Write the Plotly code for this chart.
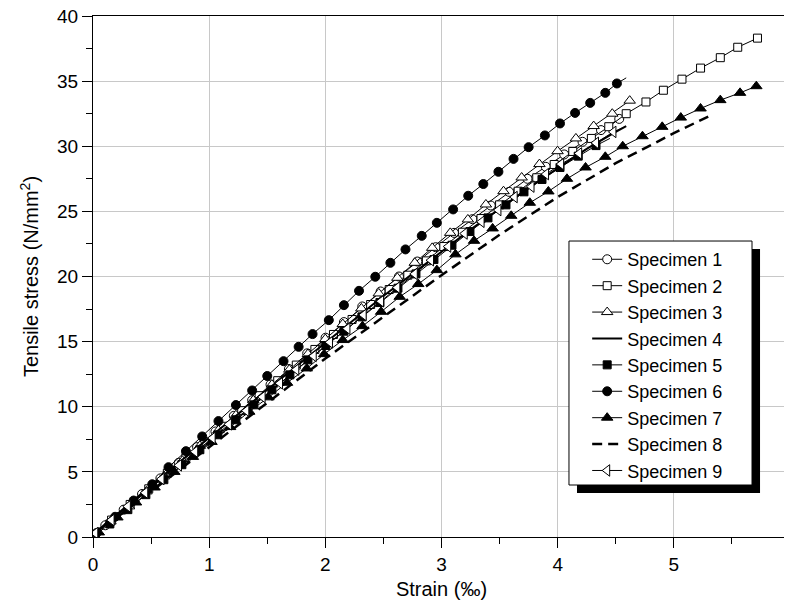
import plotly.graph_objects as go

# ---------------- data ----------------
names = ["Specimen 1", "Specimen 2", "Specimen 3", "Specimen 4", "Specimen 5",
         "Specimen 6", "Specimen 7", "Specimen 8", "Specimen 9"]

e1 = [0.106, 0.264, 0.422, 0.58, 0.738, 0.896, 1.054, 1.212, 1.37, 1.528, 1.686, 1.844,
      2.002, 2.16, 2.318, 2.476, 2.634, 2.792, 2.95, 3.108, 3.266, 3.424, 3.582, 3.74,
      3.898, 4.056, 4.214, 4.373, 4.53]
s1 = [0.9, 2.1, 3.3, 4.5, 5.7, 6.9, 8.1, 9.3, 10.5, 11.7, 12.9, 14.1,
      15.3, 16.5, 17.7, 18.85, 20.0, 21.15, 22.25, 23.35, 24.4, 25.45, 26.5, 27.5,
      28.42, 29.37, 30.34, 31.24, 32.1]

e2 = [0.02, 0.16, 0.32, 0.48, 0.64, 0.80, 0.96, 1.12, 1.28, 1.43, 1.59, 1.75, 1.91,
      2.07, 2.23, 2.39, 2.55, 2.71, 2.87, 3.02, 3.18, 3.34, 3.50, 3.66, 3.82, 3.97,
      4.13, 4.29, 4.44, 4.59, 4.76, 4.91, 5.07, 5.23, 5.40, 5.55, 5.72]
s2 = [0.2, 1.3, 2.5, 3.7, 4.9, 6.1, 7.3, 8.5, 9.7, 10.85, 12.0, 13.2, 14.4,
      15.55, 16.7, 17.85, 19.0, 20.1, 21.2, 22.3, 23.4, 24.45, 25.5, 26.55, 27.58, 28.6,
      29.6, 30.6, 31.5, 32.5, 33.4, 34.3, 35.15, 36.0, 36.8, 37.6, 38.3]

e3 = [0.0, 0.15, 0.31, 0.46, 0.61, 0.77, 0.92, 1.08, 1.23, 1.38, 1.54, 1.69, 1.85, 2.0,
      2.15, 2.31, 2.46, 2.62, 2.77, 2.92, 3.075, 3.227, 3.382, 3.534, 3.69, 3.843,
      3.999, 4.157, 4.31, 4.47, 4.62]
s3 = [0.1, 1.2, 2.35, 3.5, 4.65, 5.85, 7.0, 8.2, 9.35, 10.5, 11.7, 12.85, 14.05, 15.2,
      16.35, 17.55, 18.7, 19.9, 21.05, 22.2, 23.35, 24.38, 25.53, 26.55, 27.6, 28.63,
      29.62, 30.6, 31.55, 32.5, 33.5]

e4 = [0.0, 0.25, 0.5, 0.75, 1.0, 1.25, 1.5, 1.75, 2.0, 2.25, 2.5, 2.75, 3.0, 3.25,
      3.5, 3.75, 4.0, 4.25, 4.5, 4.59]
s4 = [0.2, 2.1, 3.95, 5.8, 7.6, 9.45, 11.3, 13.1, 14.9, 16.7, 18.5, 20.2, 21.9, 23.6,
      25.2, 26.8, 28.3, 29.8, 31.1, 31.55]

e5 = [0.145, 0.30, 0.455, 0.61, 0.765, 0.92, 1.075, 1.23, 1.385, 1.54, 1.695, 1.85,
      2.005, 2.16, 2.315, 2.47, 2.625, 2.78, 2.935, 3.09, 3.245, 3.40, 3.555, 3.71,
      3.865, 4.02, 4.177, 4.33]
s5 = [1.0, 2.1, 3.25, 4.4, 5.55, 6.7, 7.85, 9.0, 10.15, 11.3, 12.45, 13.6,
      14.7, 15.8, 16.9, 18.0, 19.1, 20.2, 21.3, 22.4, 23.45, 24.5, 25.5, 26.5,
      27.45, 28.37, 29.24, 30.05]
tail5 = ([4.33, 4.45], [30.05, 30.6])

e6 = [0.03, 0.19, 0.35, 0.51, 0.65, 0.80, 0.94, 1.08, 1.23, 1.37, 1.50, 1.64, 1.77,
      1.89, 2.03, 2.16, 2.29, 2.43, 2.56, 2.69, 2.83, 2.96, 3.10, 3.23, 3.36, 3.49,
      3.62, 3.75, 3.89, 4.02, 4.15, 4.28, 4.41, 4.51]
s6 = [0.3, 1.55, 2.8, 4.05, 5.36, 6.59, 7.72, 8.9, 10.13, 11.25, 12.36, 13.5, 14.6,
      15.58, 16.65, 17.8, 18.9, 19.98, 21.05, 22.08, 23.12, 24.12, 25.15, 26.2, 27.1,
      28.04, 29.03, 29.93, 30.83, 31.75, 32.56, 33.33, 34.1, 34.82]
tail6 = ([4.51, 4.59], [34.82, 35.25])

e7 = [0.05, 0.21, 0.37, 0.53, 0.70, 0.86, 1.02, 1.18, 1.345, 1.51, 1.67, 1.84, 1.99,
      2.15, 2.32, 2.48, 2.64, 2.80, 2.96, 3.12, 3.28, 3.44, 3.60, 3.76, 3.92, 4.08,
      4.24, 4.41, 4.56, 4.73, 4.90, 5.06, 5.23, 5.40, 5.57, 5.71]
s7 = [0.35, 1.5, 2.65, 3.8, 5.0, 6.15, 7.3, 8.44, 9.62, 10.72, 11.84, 12.94, 14.04,
      15.12, 16.19, 17.29, 18.44, 19.42, 20.49, 21.70, 22.74, 23.69, 24.66, 25.66, 26.53,
      27.5, 28.37, 29.19, 30.0, 30.77, 31.49, 32.2, 32.9, 33.54, 34.1, 34.61]

e8 = [0.0, 0.5, 1.0, 1.5, 2.0, 2.5, 3.0, 3.5, 4.0, 4.5, 5.0, 5.3]
s8 = [0.1, 3.5, 6.95, 10.35, 13.7, 16.9, 20.1, 23.2, 26.1, 28.7, 31.0, 32.3]

e9 = [0.02, 0.16, 0.30, 0.45, 0.59, 0.74, 0.88, 1.03, 1.17, 1.32, 1.46, 1.61, 1.75,
      1.90, 2.04, 2.19, 2.33, 2.48, 2.62, 2.77, 2.91, 3.058, 3.2, 3.345, 3.49, 3.63,
      3.775, 3.90, 4.03, 4.185, 4.33, 4.48]
s9 = [0.3, 1.3, 2.35, 3.4, 4.45, 5.5, 6.55, 7.6, 8.65, 9.7, 10.75, 11.8, 12.85,
      13.9, 14.95, 16.0, 17.05, 18.1, 19.15, 20.2, 21.25, 22.3, 23.3, 24.2, 25.1, 26.1,
      26.9, 27.86, 28.63, 29.45, 30.26, 31.1]
tail9 = ([4.48, 4.58], [31.1, 31.5])

x_ticks = [0, 1, 2, 3, 4, 5, 6]
y_ticks = [0, 5, 10, 15, 20, 25, 30, 35, 40]

# ---------------- figure ----------------
FONT = "Liberation Sans, Arial, sans-serif"
fig = go.Figure()

def open_marker(symbol, size):
    return dict(symbol=symbol, size=size, color="white", line=dict(color="black", width=1))

def filled_marker(symbol, size):
    return dict(symbol=symbol, size=size, color="black", line=dict(color="black", width=1))

series = [
    (e1, s1, names[0], "lines+markers", open_marker("circle", 9), dict(color="black", width=1), None),
    (e2, s2, names[1], "lines+markers", open_marker("square", 8), dict(color="black", width=1), None),
    (e3, s3, names[2], "lines+markers", open_marker("triangle-up", 10), dict(color="black", width=1), None),
    (e4, s4, names[3], "lines", None, dict(color="black", width=2), None),
    (e5, s5, names[4], "lines+markers", filled_marker("square", 8), dict(color="black", width=1), tail5),
    (e6, s6, names[5], "lines+markers", filled_marker("circle", 9), dict(color="black", width=1), tail6),
    (e7, s7, names[6], "lines+markers", filled_marker("triangle-up", 10), dict(color="black", width=1), None),
    (e8, s8, names[7], "lines", None, dict(color="black", width=2.5, dash="10px,6px"), None),
    (e9, s9, names[8], "lines+markers", open_marker("triangle-left", 10), dict(color="black", width=1), tail9),
]

for ex, sy, nm, mode, mk, ln, tail in series:
    if tail is not None:
        fig.add_trace(go.Scatter(x=tail[0], y=tail[1], mode="lines", line=ln,
                                 showlegend=False, hoverinfo="skip"))
    kw = dict(x=ex, y=sy, name=nm, mode=mode, line=ln)
    if mk is not None:
        kw["marker"] = mk
    fig.add_trace(go.Scatter(**kw))

# legend box with drop shadow
fig.add_shape(type="rect", xref="paper", yref="paper",
              x0=0.6944, x1=0.957, y0=0.0845, y1=0.5528,
              fillcolor="black", line=dict(width=0), layer="above")
fig.add_shape(type="rect", xref="paper", yref="paper",
              x0=0.6829, x1=0.9455, y0=0.0998, y1=0.5681,
              fillcolor="white", line=dict(color="black", width=1), layer="above")

axis_common = dict(
    showline=True, linecolor="black", linewidth=1.3, mirror=True,
    showgrid=True, gridcolor="#c8c8c8", gridwidth=1,
    ticks="outside", ticklen=10, tickwidth=1, tickcolor="black",
    tickfont=dict(family=FONT, size=19, color="black"),
    zeroline=False, automargin=False, ticklabeloverflow="allow",
)

fig.update_xaxes(range=[0, 6], tickvals=x_ticks,
                 minor=dict(dtick=0.5, ticks="outside", ticklen=6, tickcolor="black", showgrid=False),
                 title=dict(text="Strain (‰)", font=dict(family=FONT, size=20, color="black"), standoff=8),
                 **axis_common)
fig.update_yaxes(range=[0, 40], tickvals=y_ticks,
                 minor=dict(dtick=2.5, ticks="outside", ticklen=6, tickcolor="black", showgrid=False),
                 title=dict(text="Tensile stress (N/mm<sup>2</sup>)", font=dict(family=FONT, size=20, color="black"), standoff=12),
                 **axis_common)

# page body has an 8px margin: the figure is sized to fill the rest of the window
fig.update_layout(
    width=784, height=600,
    margin=dict(l=85, r=2, t=8, b=71),
    plot_bgcolor="white", paper_bgcolor="white",
    font=dict(family=FONT, color="black"),
    legend=dict(x=0.709, y=0.568, xanchor="left", yanchor="top",
                bgcolor="rgba(0,0,0,0)", borderwidth=0,
                font=dict(family=FONT, size=18, color="black"),
                tracegroupgap=0, itemsizing="trace"),
    showlegend=True,
)

fig.write_html("out.html")
